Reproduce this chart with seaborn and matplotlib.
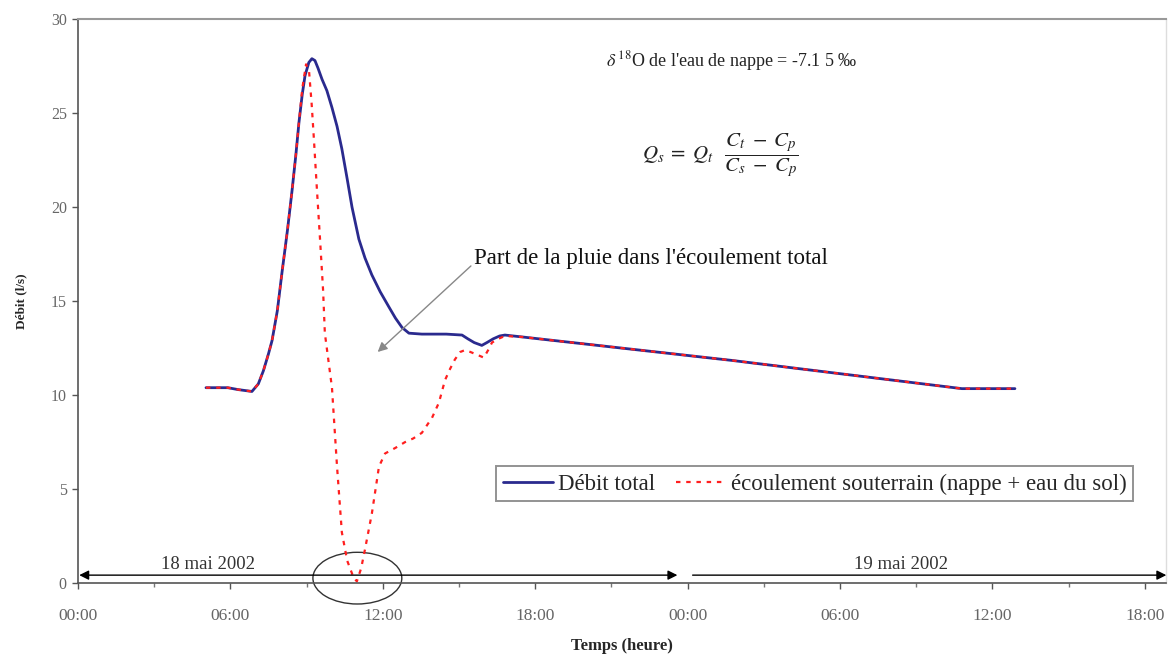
import numpy as np
import pandas as pd
import matplotlib
matplotlib.use("Agg")
import matplotlib.pyplot as plt
from matplotlib.patches import Ellipse
import matplotlib.ticker as mticker
import seaborn as sns

# ---- data (time in hours since 18 May 2002 00:00, flow in l/s) ----
total_hours = [5.04, 5.9, 6.3, 6.85, 7.1, 7.3, 7.5, 7.64, 7.85, 8.03, 8.25, 8.43, 8.58,
               8.7, 8.83, 8.94, 9.09, 9.21, 9.33, 9.45, 9.61, 9.8, 10.0, 10.2, 10.39,
               10.6, 10.79, 11.06, 11.3, 11.57, 11.9, 12.24, 12.5, 12.76, 13.03, 13.54,
               14.5, 15.12, 15.35, 15.6, 15.9, 16.1, 16.35, 16.6, 16.81, 17.48, 25.75,
               34.8, 36.89]
total_flow = [10.4, 10.4, 10.3, 10.2, 10.6, 11.3, 12.2, 12.9, 14.5, 16.5, 18.8, 20.9, 22.8,
              24.5, 26.0, 27.0, 27.7, 27.9, 27.8, 27.4, 26.8, 26.2, 25.3, 24.3, 23.1,
              21.5, 20.0, 18.3, 17.3, 16.4, 15.5, 14.7, 14.1, 13.6, 13.3, 13.25,
              13.25, 13.2, 13.0, 12.8, 12.65, 12.8, 13.0, 13.15, 13.2, 13.1, 11.85,
              10.35, 10.35]

ground_hours = [5.04, 5.9, 6.3, 6.85, 7.1, 7.3, 7.5, 7.64, 7.85, 8.03, 8.25, 8.43, 8.58,
                8.7, 8.83, 8.98, 9.1, 9.2, 9.29, 9.41, 9.53, 9.65, 9.72, 10.0, 10.2,
                10.39, 10.6, 10.85, 10.98, 11.15, 11.3, 11.57, 11.75, 11.85, 12.09, 12.5,
                12.87, 13.2, 13.54, 13.94, 14.21, 14.45, 14.65, 14.84, 15.05, 15.24, 15.45,
                15.63, 15.98, 16.15, 16.3, 16.55, 16.81, 17.48, 25.75, 34.8, 36.89]
ground_flow = [10.4, 10.4, 10.3, 10.2, 10.6, 11.3, 12.2, 12.9, 14.5, 16.5, 18.8, 20.9, 22.8,
               24.5, 26.3, 27.6, 27.2, 25.5, 23.6, 20.9, 18.3, 15.6, 13.3, 10.4, 6.2,
               2.7, 1.2, 0.3, 0.1, 0.8, 1.8, 3.7, 5.3, 6.2, 6.9, 7.2,
               7.5, 7.7, 8.0, 8.8, 9.6, 10.8, 11.4, 11.9, 12.3, 12.4, 12.3,
               12.2, 12.0, 12.4, 12.8, 13.0, 13.15, 13.1, 11.85, 10.35, 10.35]

tick_hours = [0, 6, 12, 18, 24, 30, 36, 42]
tick_labels = ["00:00", "06:00", "12:00", "18:00", "00:00", "06:00", "12:00", "18:00"]

label_total = "Débit total"
label_ground = "écoulement souterrain (nappe + eau du sol)"

df_total = pd.DataFrame({"h": total_hours, "q": total_flow})
df_ground = pd.DataFrame({"h": ground_hours, "q": ground_flow})

sns.set_theme(style="white")
plt.rcParams["font.family"] = ["Liberation Serif", "DejaVu Serif"]
plt.rcParams["mathtext.fontset"] = "stix"

fig = plt.figure(figsize=(11.69, 6.62), dpi=100)
ax = fig.add_axes([0.0667, 0.119, 0.931, 0.852])

sns.lineplot(data=df_total, x="h", y="q", ax=ax, color="#2a2a8e", lw=2.0,
             label=label_total, sort=False)
sns.lineplot(data=df_ground, x="h", y="q", ax=ax, color="#ff1f1f", lw=1.6,
             linestyle=(0, (2.0, 2.6)), label=label_ground, sort=False)

ax.set_xlim(0, 42.85)
ax.set_ylim(0, 30)
ax.set_yticks(np.arange(0, 31, 5))
ax.set_xticks(tick_hours)
ax.set_xticklabels(tick_labels)
ax.xaxis.set_minor_locator(mticker.MultipleLocator(3))
ax.tick_params(axis="both", which="major", direction="out", length=4, width=1,
               color="#555555", labelcolor="#666666", bottom=True, left=True)
ax.tick_params(axis="x", which="major", labelsize=12.5, pad=14)
ax.tick_params(axis="y", which="major", labelsize=11.5, pad=4)
ax.tick_params(axis="x", which="minor", direction="out", length=3, width=1,
               color="#777777", bottom=True)

for s in ["left", "bottom"]:
    ax.spines[s].set_color("#555555")
    ax.spines[s].set_linewidth(1.2)
ax.spines["top"].set_color("#999999")
ax.spines["top"].set_linewidth(1.5)
ax.spines["right"].set_color("#dddddd")
ax.spines["right"].set_linewidth(1.0)

ax.set_xlabel("Temps (heure)", fontsize=12, fontweight="bold", labelpad=10)
ax.set_ylabel("Débit (l/s)", fontsize=9.5, fontweight="bold", labelpad=17)

leg = ax.legend(loc="center", bbox_to_anchor=(0.677, 0.176), ncol=2, fontsize=16.5,
                frameon=True, fancybox=False, shadow=False, handlelength=2.2,
                columnspacing=0.9, handletextpad=0.2, borderpad=0.3)
leg.get_frame().set_edgecolor("#777777")
leg.get_frame().set_linewidth(1.4)

# day arrows
ax.annotate("", xy=(0.05, 0.43), xytext=(23.6, 0.43),
            arrowprops=dict(arrowstyle="<|-|>", color="black", lw=1.0,
                            shrinkA=0, shrinkB=0, mutation_scale=14))
ax.annotate("", xy=(24.2, 0.43), xytext=(42.85, 0.43),
            arrowprops=dict(arrowstyle="<|-", color="black", lw=1.0,
                            shrinkA=0, shrinkB=0, mutation_scale=14))
ax.text(5.1, 0.55, "18 mai 2002", ha="center", va="bottom", fontsize=13.5, color="#333333")
ax.text(32.4, 0.55, "19 mai 2002", ha="center", va="bottom", fontsize=13.5, color="#333333")

ax.add_patch(Ellipse((11.0, 0.27), 3.5, 2.75, fill=False, ec="#333333", lw=1.0,
                     clip_on=False))

ax.annotate("Part de la pluie dans l'écoulement total", xy=(11.8, 12.3),
            xytext=(15.6, 17.26), ha="left", va="center", fontsize=16.5, color="#111111",
            arrowprops=dict(arrowstyle="-|>", color="#888888", lw=1.0, relpos=(0, 0.3),
                            mutation_scale=14, shrinkA=0, shrinkB=0))

ax.text(25.75, 27.75, r"$\delta^{\,18}$O de l'eau de nappe = -7.1 5 ‰", ha="center",
        va="center", fontsize=13, color="#222222")
ax.text(25.3, 22.8, r"$Q_s\;=\;Q_t\;\;\;\dfrac{C_t\;-\;C_p}{C_s\;-\;C_p}$", ha="center",
        va="center", fontsize=15, color="#222222")

fig.savefig("out.png", dpi=100)
